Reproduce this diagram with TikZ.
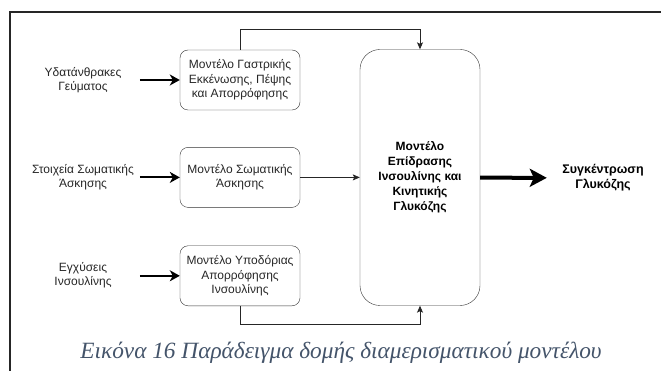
\documentclass[tikz,border=0pt]{standalone}
\usepackage{fontspec}
\setmainfont{Liberation Sans}
\newfontfamily\capfont{Liberation Serif}
\definecolor{capblue}{HTML}{44546A}
\usetikzlibrary{arrows.meta,positioning}

\begin{document}
\begin{tikzpicture}[
    x = 1pt, y = -1pt, % one unit = one pixel of the figure
    node distance = 37pt,
    font = \fontsize{12}{14.5}\selectfont,
    ]

    \tikzset{
    model/.style = {draw = black!80, rounded corners = 8pt, minimum width = 120pt,
        minimum height = 60pt, align = center, inner sep = 2pt, text = black!85},
    core/.style = {draw = black!80, rounded corners = 20pt, minimum width = 120pt,
        minimum height = 256pt, align = center, font = \fontsize{12}{15}\selectfont\bfseries},
    inlabel/.style = {align = center, text = black!85},
    inarrow/.style = {-{Stealth[length=10pt,width=11pt,inset=3pt]}, line width = 2pt},
    outarrow/.style = {-{Stealth[length=17pt,width=18pt,inset=4pt]}, line width = 4pt, shorten > = 12pt},
    link/.style = {-{Stealth[length=7pt,width=6pt,inset=1.5pt]}, line width = 0.8pt, draw = black!85}
    }

    \useasboundingbox (0,0) rectangle (661,371);
    % page frame
    \draw[line width = 1.5pt, black!85] (10,375) -- (10,12) -- (665,12);

    \node[model] (gast) at (240,80) {Μοντέλο Γαστρικής\\Εκκένωσης, Πέψης\\και Απορρόφησης};
    \node[model] (exer) [below=of gast] {Μοντέλο Σωματικής\\Άσκησης};
    \node[model] (insul) [below=38pt of exer] {Μοντέλο Υποδόριας\\Απορρόφησης\\Ινσουλίνης};
    \node[core] (main) at (420,177.5) {Μοντέλο\\Επίδρασης\\Ινσουλίνης και\\Κινητικής\\Γλυκόζης};

    \node[inlabel] (carbs) at (83,80) {Υδατάνθρακες\\Γεύματος};
    \node[inlabel] (sport) at (83,177) {Στοιχεία Σωματικής\\Άσκησης};
    \node[inlabel] (shots) at (83,275) {Εγχύσεις\\Ινσουλίνης};
    \node[align = center, font = \fontsize{12.5}{15}\selectfont\bfseries] (gluc) at (603,178) {Συγκέντρωση\\Γλυκόζης};

    \coordinate (c1) at ([xshift=-40pt]gast.west);
    \coordinate (c2) at ([xshift=-40pt]exer.west);
    \coordinate (c3) at ([xshift=-40pt]insul.west);

    \draw[inarrow] (c1) -- (gast);
    \draw[inarrow] (c2) -- (exer);
    \draw[inarrow] (c3) -- (insul);

    \draw[link] (gast.north) |- ([yshift=20pt]main.north) -- (main.north);
    \draw[link] (exer.east) -- (exer.east -| main.west);
    \draw[link] (insul.south) |- ([yshift=-19pt]main.south) -- (main.south);

    \draw[outarrow] (main) -- (gluc);

    \node[anchor = base, text = capblue, font = \capfont\itshape\fontsize{23.3}{27}\selectfont] (cap)
        at (341,358) {Εικόνα 16 Παράδειγμα δομής διαμερισματικού μοντέλου};
\end{tikzpicture}
\end{document}
